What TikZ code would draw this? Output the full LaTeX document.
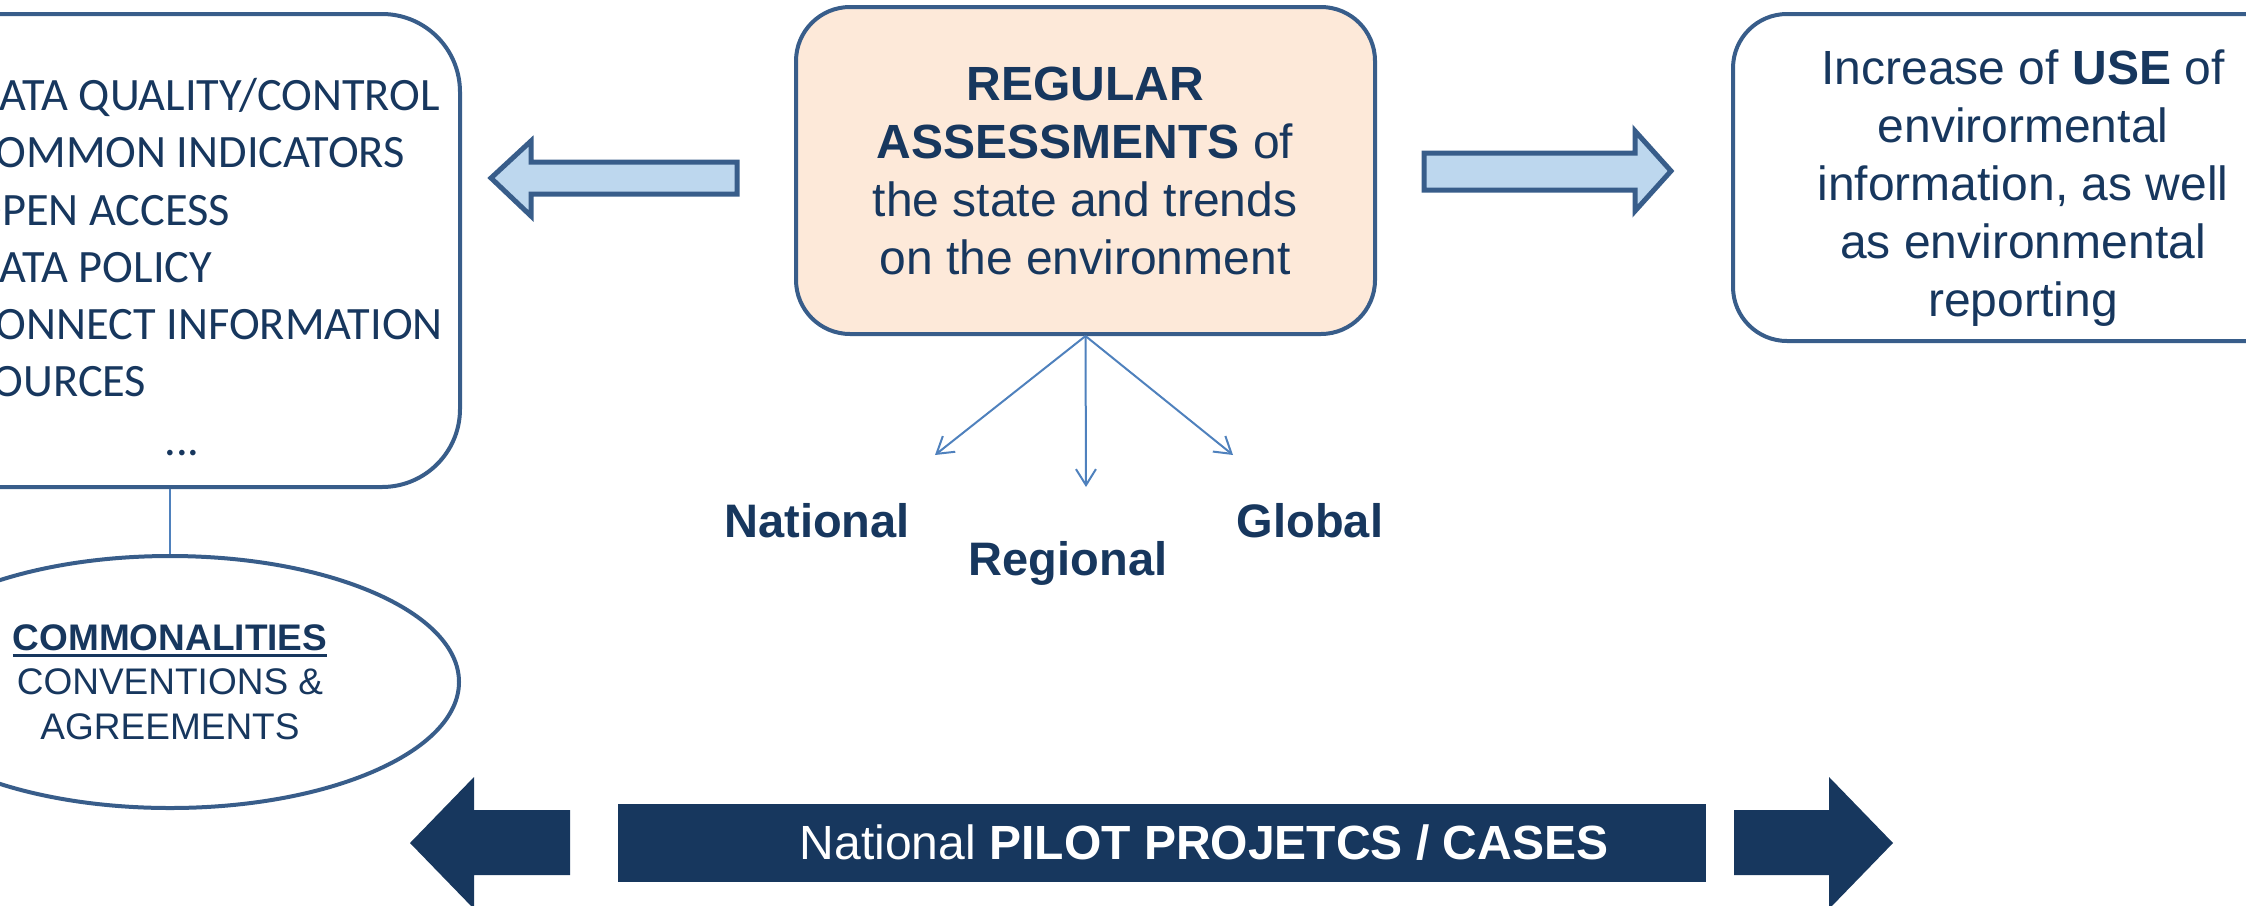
\documentclass[tikz,border=0pt]{standalone}
\usepackage{fontspec}
\setmainfont{Liberation Sans}
\newfontfamily\calibrifont{Carlito}
\usetikzlibrary{shapes.geometric,arrows.meta}
\definecolor{navy}{HTML}{17375E}
\definecolor{edgeblue}{HTML}{385D8A}
\definecolor{thinblue}{HTML}{4F81BD}
\definecolor{peach}{HTML}{FDE9D9}
\definecolor{lightblue}{HTML}{BDD7EE}
\newcommand\ulbar[1]{\leavevmode\vtop{\hbox{#1}\kern1.5pt\hrule height 1.5pt}}
\begin{document}
\begin{tikzpicture}[x=0.5pt,y=-0.5pt,
  bigtext/.style={text=navy, font=\fontsize{24}{29}\selectfont},
  bigbold/.style={text=navy, font=\fontsize{23.5}{28.5}\selectfont\bfseries},
  caltext/.style={text=navy, font=\calibrifont\fontsize{23.2}{28.5}\selectfont, anchor=base west, inner sep=0},
  boxshape/.style={draw=edgeblue, line width=2pt, inner sep=0},
  thinline/.style={draw=thinblue, line width=1pt},
  thinarrow/.style={draw=thinblue, line width=1pt, -{Straight Barb[length=8pt,width=10pt]}},
  blockarrow/.style={draw=edgeblue, line width=2.5pt, fill=lightblue, line join=miter},
  darkarrow/.style={fill=navy}]
\useasboundingbox (0,0) rectangle (2246,905);
\clip (0,0) rectangle (2246,905);

% left box
\node[boxshape, rounded corners=39pt, minimum width=290pt, minimum height=236.5pt] (lbox) at (170,250.5) {};
\node[caltext] (l1) at (-29,110) {DATA QUALITY/CONTROL};
\node[caltext] (l2) at (-29,167) {COMMON INDICATORS};
\node[caltext] (l3) at (-29,225) {OPEN ACCESS};
\node[caltext] (l4) at (-29,282) {DATA POLICY};
\node[caltext] (l5) at (-29,339) {CONNECT INFORMATION};
\node[caltext] (l6) at (-29,396) {SOURCES};
\node[caltext, anchor=base] (l7) at (182,455) {...};

% ellipse
\node[ellipse, boxshape, minimum width=289pt, minimum height=126pt, align=center,
      text=navy, font=\fontsize{18.5}{22.25}\selectfont] (ell) at (170,682)
  {\ulbar{\bfseries COMMONALITIES}\\CONVENTIONS \&\\AGREEMENTS};
\draw[thinline] (lbox.south) -- (ell.north);

% center box
\node[boxshape, fill=peach, rounded corners=27pt, minimum width=289.5pt, minimum height=163.5pt] (cbox) at (1085.5,170.5) {};
\node[bigtext, align=center] (ctext) at (1085,171)
  {\textbf{REGULAR}\\\textbf{ASSESSMENTS} of\\the state and trends\\on the environment};

% right box
\node[boxshape, rounded corners=27pt, minimum width=290pt, minimum height=163.5pt] (rbox) at (2023,177.5) {};
\node[bigtext, align=center] (rtext) at (2023,188.5)
  {Increase of \textbf{USE} of\\envirormental\\information, as well\\as environmental\\reporting};

% hollow block arrows
\draw[blockarrow] (491,178) -- (531,141) -- (531,162) -- (737,162) -- (737,194) -- (531,194) -- (531,216) -- cycle;
\draw[blockarrow] (1424,153) -- (1635,153) -- (1635,131) -- (1671,171) -- (1635,211) -- (1635,190) -- (1424,190) -- cycle;

% thin arrows and labels
\coordinate (natend) at (935,455);
\coordinate (regend) at (1086,487);
\coordinate (gloend) at (1233,455);
\draw[thinarrow] (cbox.south) -- (natend);
\draw[thinarrow] (cbox.south) -- (regend);
\draw[thinarrow] (cbox.south) -- (gloend);
\node[bigbold, anchor=base] (nat) at (817,537) {National};
\node[bigbold, anchor=base] (reg) at (1068,575) {Regional};
\node[bigbold, anchor=base] (glo) at (1310,537) {Global};

% bottom band
\fill[darkarrow] (410,843) -- (474,777) -- (474,810) -- (570,810) -- (570,875) -- (474,875) -- (474,909) -- cycle;
\fill[darkarrow] (1734,810) -- (1829,810) -- (1829,777) -- (1893,843) -- (1829,909) -- (1829,875) -- (1734,875) -- cycle;
\node[fill=navy, minimum width=544pt, minimum height=39pt, inner sep=0] (pilot) at (1162,843) {};
\node[text=white, font=\fontsize{24}{29}\selectfont, anchor=base] (pilottext) at (1204,859)
  {National \textbf{PILOT PROJETCS / CASES}};
\end{tikzpicture}
\end{document}
